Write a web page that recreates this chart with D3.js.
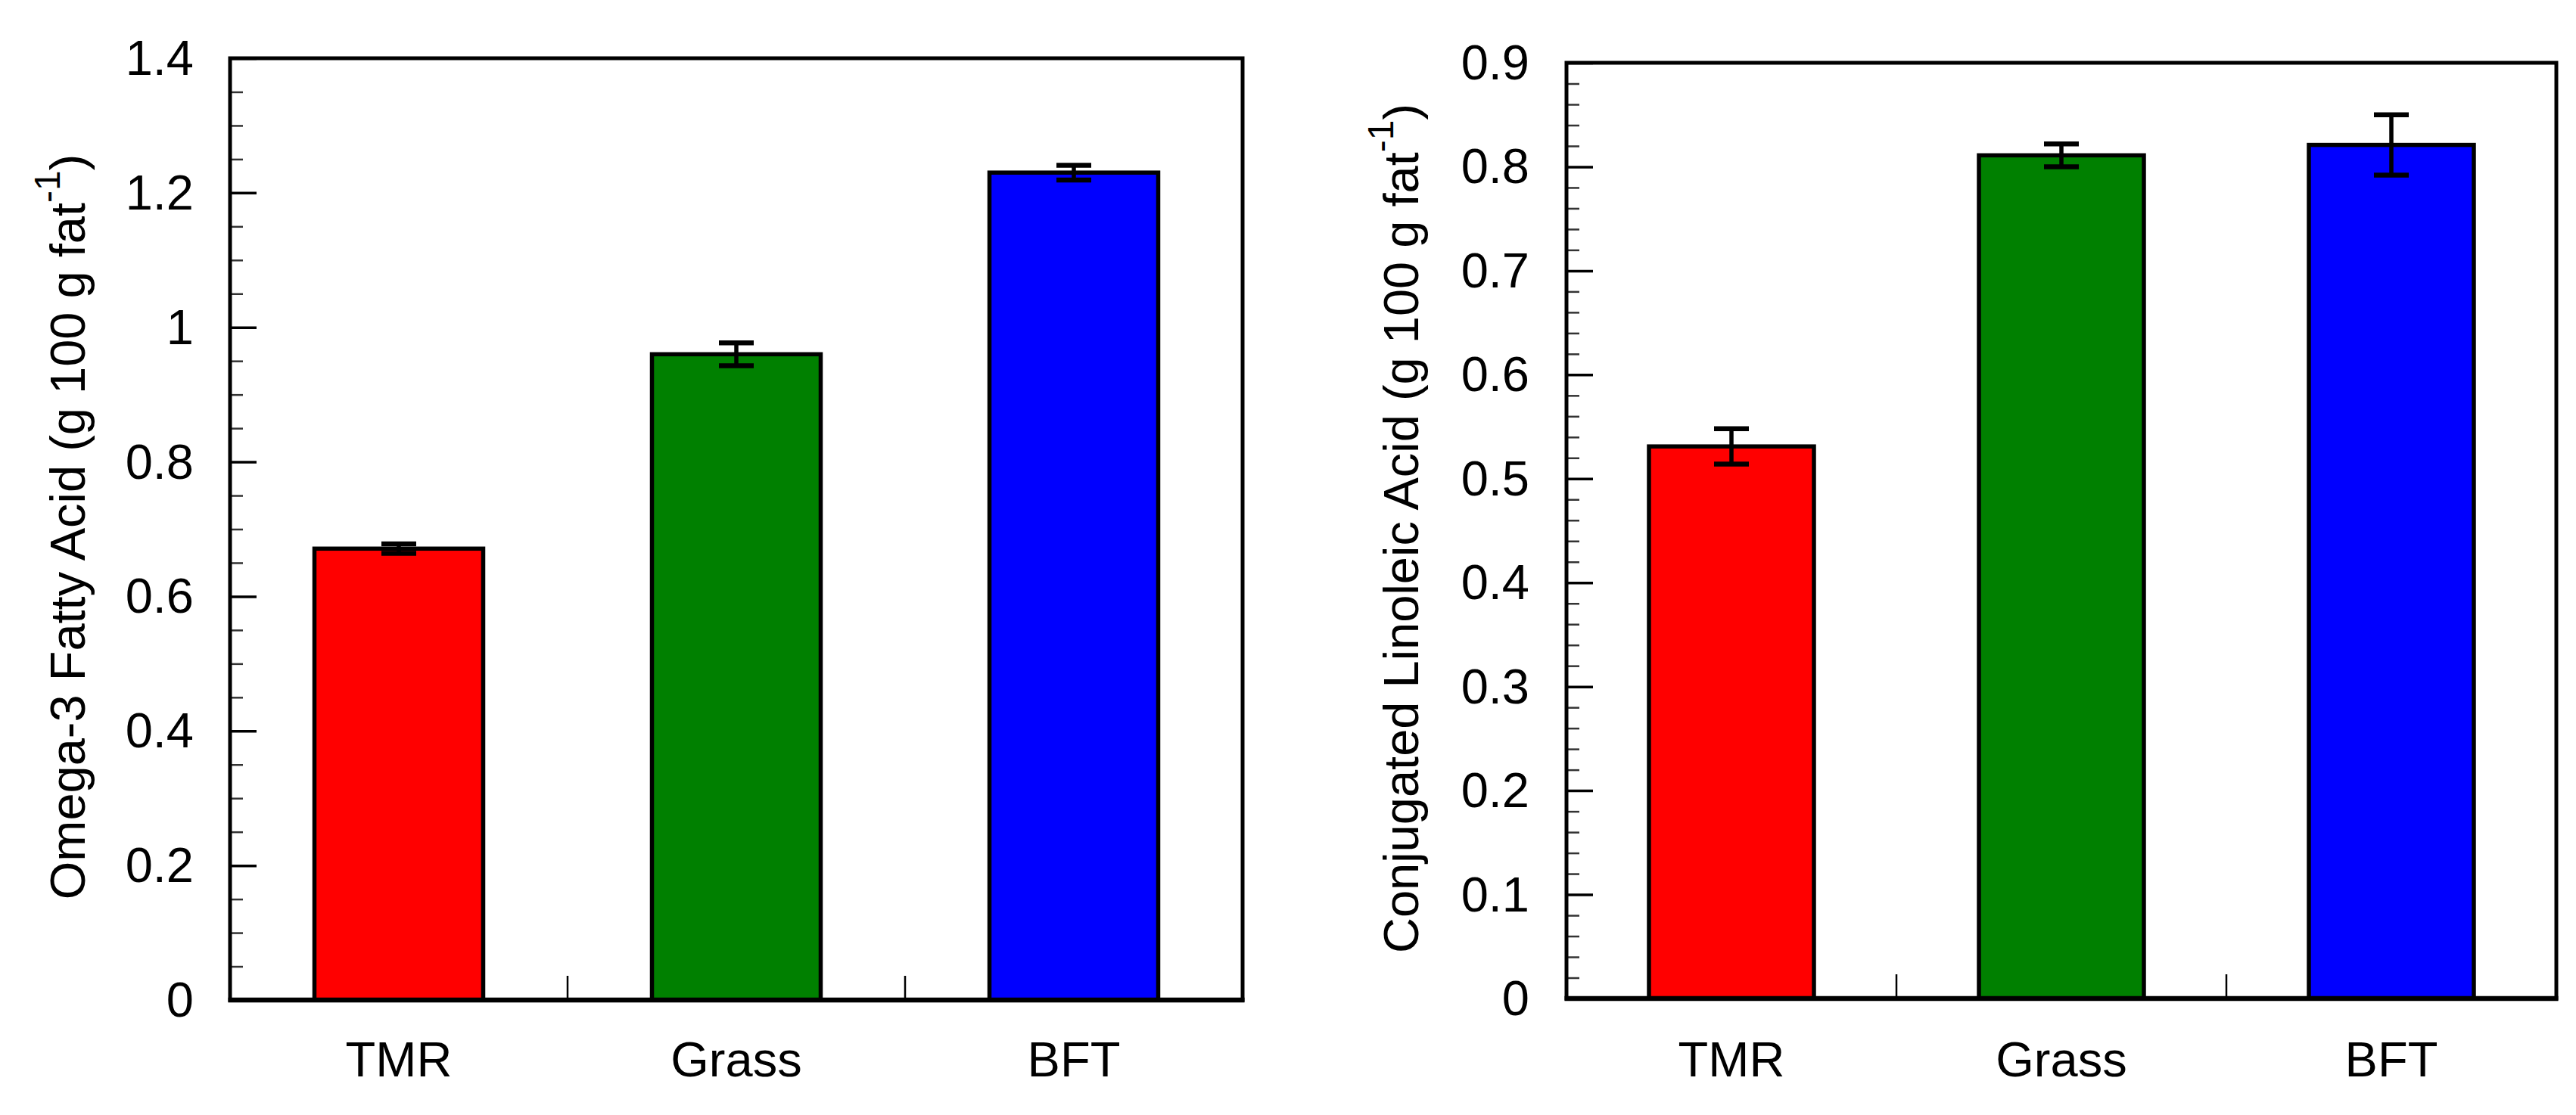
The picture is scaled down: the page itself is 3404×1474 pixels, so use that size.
<!DOCTYPE html>
<html>
<head>
<meta charset="utf-8">
<script src="https://cdn.jsdelivr.net/npm/d3@7"></script>
<style>
  html, body { margin: 0; padding: 0; background: #fff; }
  text { font-family: "Liberation Sans", Arial, Helvetica, sans-serif; fill: #000; }
</style>
</head>
<body>
<div id="chart"></div>
<script>
// treatments and their measured means / error bars
var treatments = ["TMR", "Grass", "BFT"];
var omega3Mean = [0.671, 0.960, 1.230];
var omega3Err = [0.007, 0.017, 0.011];
var claMean = [0.531, 0.811, 0.821];
var claErr = [0.017, 0.011, 0.029];
var omega3Ticks = [0, 0.2, 0.4, 0.6, 0.8, 1, 1.2, 1.4];
var claTicks = [0, 0.1, 0.2, 0.3, 0.4, 0.5, 0.6, 0.7, 0.8, 0.9];

var barColors = ["#ff0000", "#008000", "#0000ff"];

var W = 3404, H = 1474;
var svg = d3.select("#chart").append("svg")
  .attr("width", W).attr("height", H)
  .style("display", "block");

function fmt(d) { return String(+d.toFixed(2)); }

function drawPanel(p) {
  var g = svg.append("g");
  var x = d3.scaleBand().domain(treatments)
    .range([p.left, p.right]).paddingInner(0.5).paddingOuter(0.25);
  var y = d3.scaleLinear().domain([0, p.max]).range([p.bottom, p.top]);

  // minor ticks
  var minor = d3.range(0, p.max + 1e-9, p.minorStep)
    .filter(function (v) { return p.ticks.every(function (t) { return Math.abs(t - v) > 1e-6; }); });
  g.append("g").attr("transform", "translate(" + p.left + ",0)")
    .call(d3.axisLeft(y).tickValues(minor).tickSizeInner(-17).tickSizeOuter(0).tickFormat(""))
    .call(function (a) { a.select(".domain").remove(); })
    .selectAll("line").attr("stroke", "#333").attr("stroke-width", 2.5);

  // major ticks + labels
  var ya = g.append("g").attr("transform", "translate(" + p.left + ",0)")
    .call(d3.axisLeft(y).tickValues(p.ticks).tickSizeInner(-35).tickSizeOuter(0)
      .tickPadding(p.pad).tickFormat(fmt));
  ya.select(".domain").remove();
  ya.selectAll("line").attr("stroke", "#000").attr("stroke-width", 3.5);
  ya.selectAll("text").attr("font-size", 65).attr("dy", "0.33em")
    .style("font-family", "'Liberation Sans', Arial, sans-serif");

  // boundary ticks on the category axis
  var bounds = d3.range(1, treatments.length).map(function (i) { return p.left + i * x.step(); });
  g.selectAll(".bt").data(bounds).enter().append("line")
    .attr("x1", function (d) { return d; }).attr("x2", function (d) { return d; })
    .attr("y1", p.bottom).attr("y2", p.bottom - 32)
    .attr("stroke", "#000").attr("stroke-width", 2.5);

  // bars
  g.selectAll(".bar").data(p.mean).enter().append("rect")
    .attr("x", function (d, i) { return x(treatments[i]); })
    .attr("y", function (d) { return y(d); })
    .attr("width", x.bandwidth())
    .attr("height", function (d) { return p.bottom - y(d); })
    .attr("fill", function (d, i) { return barColors[i]; })
    .attr("stroke", "#000").attr("stroke-width", 5.5);

  // error bars
  var eb = g.selectAll(".eb").data(p.mean).enter().append("g");
  eb.append("line")
    .attr("x1", function (d, i) { return x(treatments[i]) + x.bandwidth() / 2; })
    .attr("x2", function (d, i) { return x(treatments[i]) + x.bandwidth() / 2; })
    .attr("y1", function (d, i) { return y(d - p.err[i]); })
    .attr("y2", function (d, i) { return y(d + p.err[i]); })
    .attr("stroke", "#000").attr("stroke-width", 5.5);
  [-1, 1].forEach(function (s) {
    eb.append("line")
      .attr("x1", function (d, i) { return x(treatments[i]) + x.bandwidth() / 2 - 23; })
      .attr("x2", function (d, i) { return x(treatments[i]) + x.bandwidth() / 2 + 23; })
      .attr("y1", function (d, i) { return y(d + s * p.err[i]); })
      .attr("y2", function (d, i) { return y(d + s * p.err[i]); })
      .attr("stroke", "#000").attr("stroke-width", 6.5);
  });

  // frame
  g.append("rect")
    .attr("x", p.left).attr("y", p.top)
    .attr("width", p.right - p.left).attr("height", p.bottom - p.top)
    .attr("fill", "none").attr("stroke", "#000").attr("stroke-width", 5);
  g.append("line")
    .attr("x1", p.left - 2.5).attr("x2", p.right + 2.5)
    .attr("y1", p.bottom).attr("y2", p.bottom)
    .attr("stroke", "#000").attr("stroke-width", 6.5);

  // category labels
  g.selectAll(".cat").data(treatments).enter().append("text")
    .attr("x", function (d) { return x(d) + x.bandwidth() / 2; })
    .attr("y", 1423)
    .attr("text-anchor", "middle").attr("font-size", 65)
    .text(function (d) { return d; });

  // y title with superscript
  var t = g.append("text")
    .attr("transform", "translate(" + p.titleX + "," + ((p.top + p.bottom) / 2 - 3) + ") rotate(-90)")
    .attr("text-anchor", "middle").attr("font-size", 65);
  t.append("tspan").text(p.title + " (g 100 g fat");
  t.append("tspan").attr("font-size", 48).attr("dy", -33).text("-1");
  t.append("tspan").attr("dy", 33).text(")");
}

drawPanel({
  left: 304, right: 1642, top: 77, bottom: 1322, max: 1.4,
  ticks: omega3Ticks, minorStep: 0.05, pad: 48,
  mean: omega3Mean, err: omega3Err,
  title: "Omega-3 Fatty Acid", titleX: 112
});

drawPanel({
  left: 2070, right: 3378, top: 83, bottom: 1320, max: 0.9,
  ticks: claTicks, minorStep: 0.02, pad: 49,
  mean: claMean, err: claErr,
  title: "Conjugated Linoleic Acid", titleX: 1874
});
</script>
</body>
</html>
